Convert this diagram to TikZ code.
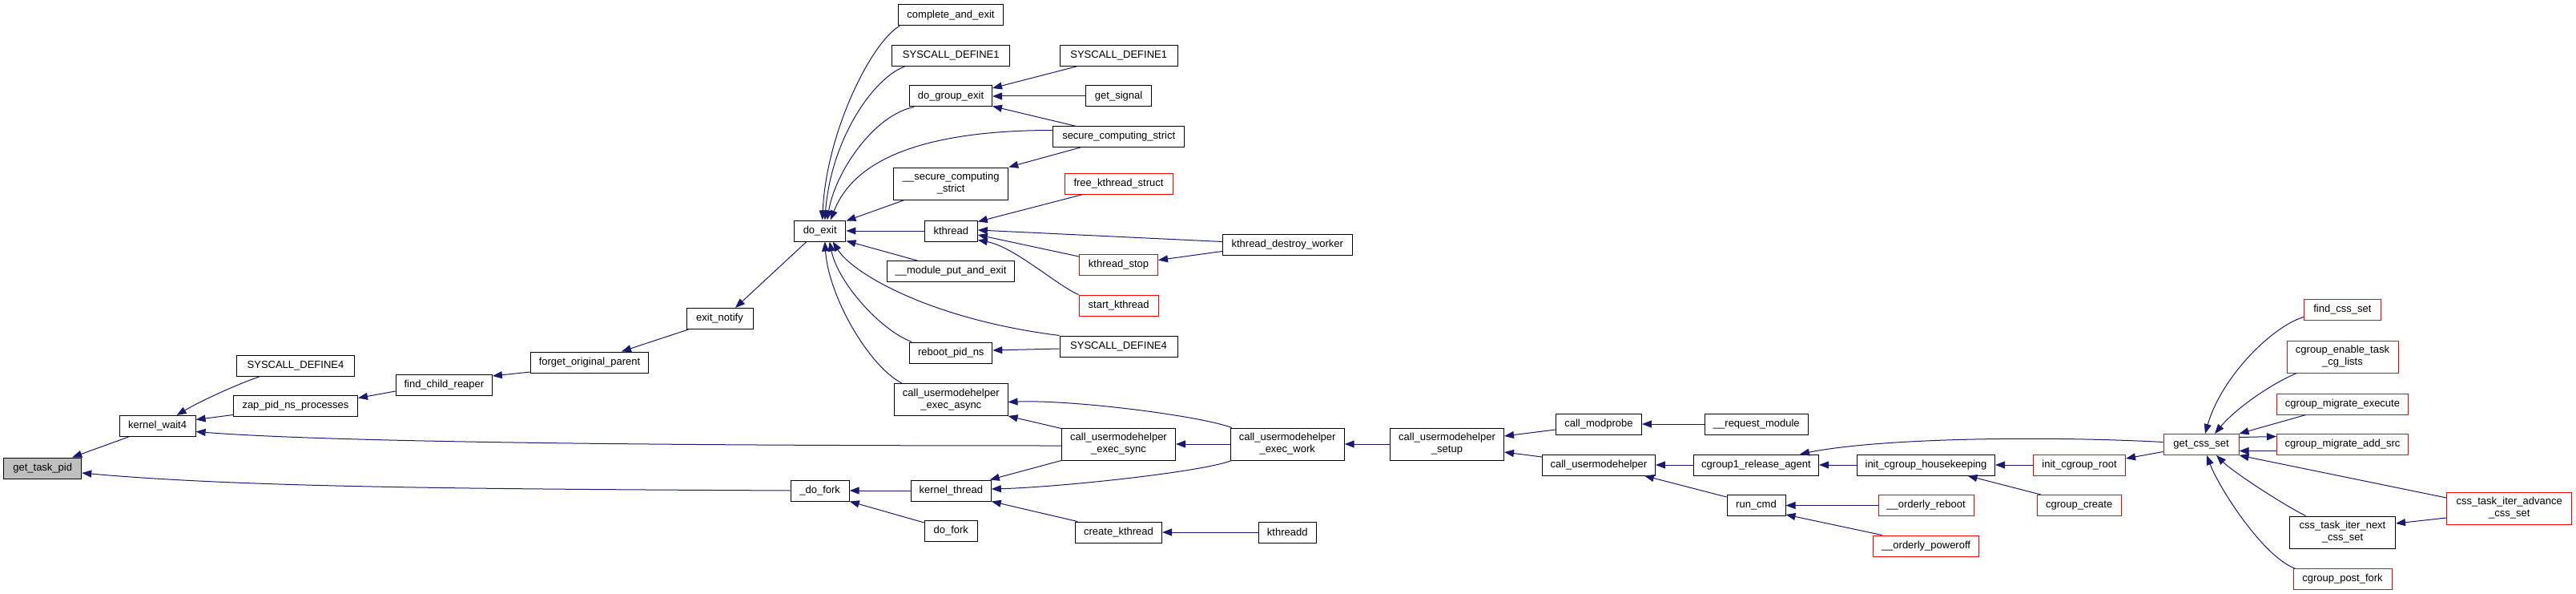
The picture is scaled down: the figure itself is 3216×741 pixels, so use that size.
\documentclass[tikz,border=0pt]{standalone}
\usepackage{fontspec}
\setmainfont{Liberation Sans}
\usetikzlibrary{arrows.meta,calc}
\definecolor{edgeblue}{HTML}{191970}
\definecolor{nodegray}{HTML}{BFBFBF}
\definecolor{redborder}{HTML}{FF0000}
\tikzset{
 fn/.style={draw=black, line width=1pt, fill=white, inner sep=0pt, minimum height=26pt, align=center, font=\fontsize{13}{15}\selectfont},
 fnred/.style={fn, draw=redborder},
 fn2/.style={minimum height=40pt},
 edge/.style={draw=edgeblue, line width=1pt, -{Triangle[length=12pt,width=9pt]}},
}
\begin{document}
\begin{tikzpicture}[x=1pt,y=-1pt]
\fill[white] (0,0) rectangle (3216,741);
\useasboundingbox (0,0) rectangle (3216,741);
% nodes
\node[fn, fill=nodegray, minimum width=97pt] (gtp) at (53.2,584) {get\_task\_pid};
\node[fn, minimum width=95pt] (kw4) at (196.6,531.5) {kernel\_wait4};
\node[fn, minimum width=147pt] (sd4a) at (369,456) {SYSCALL\_DEFINE4};
\node[fn, minimum width=155pt] (zap) at (369,506.5) {zap\_pid\_ns\_processes};
\node[fn, minimum width=120pt] (fcr) at (554.4,480) {find\_child\_reaper};
\node[fn, minimum width=147pt] (fop) at (736,452) {forget\_original\_parent};
\node[fn, minimum width=83pt] (en) at (898.5,397.5) {exit\_notify};
\node[fn, minimum width=64.5pt] (dex) at (1023.7,288) {do\_exit};
\node[fn, minimum width=73pt] (dfk) at (1023.7,612) {\_do\_fork};
\node[fn, minimum width=131pt] (cae) at (1187,19) {complete\_and\_exit};
\node[fn, minimum width=147pt] (sd1a) at (1187.3,69.5) {SYSCALL\_DEFINE1};
\node[fn, minimum width=103pt] (dge) at (1187,120) {do\_group\_exit};
\node[fn, minimum width=164pt] (scs) at (1396.7,170.5) {secure\_computing\_strict};
\node[fn, fn2, minimum width=143pt] (uscs) at (1187.2,229) {\_\_secure\_computing\\\_strict};
\node[fn, minimum width=66pt] (kth) at (1187.3,288) {kthread};
\node[fn, minimum width=159pt] (mpe) at (1187,338.5) {\_\_module\_put\_and\_exit};
\node[fn, minimum width=103pt] (rpn) at (1187.3,440) {reboot\_pid\_ns};
\node[fn, fn2, minimum width=141.5pt] (uea) at (1187.3,498.5) {call\_usermodehelper\\\_exec\_async};
\node[fn, minimum width=100pt] (kt) at (1187.3,612) {kernel\_thread};
\node[fn, minimum width=66pt] (dfo) at (1187.3,662.5) {do\_fork};
\node[fn, minimum width=147pt] (sd1b) at (1396.7,69.5) {SYSCALL\_DEFINE1};
\node[fn, minimum width=82pt] (gs) at (1396.6,120) {get\_signal};
\node[fnred, minimum width=135pt] (fks) at (1396.5,229.5) {free\_kthread\_struct};
\node[fnred, minimum width=98pt] (kst) at (1396.5,330.5) {kthread\_stop};
\node[fnred, minimum width=99pt] (stk) at (1396.6,381) {start\_kthread};
\node[fn, minimum width=147pt] (sd4b) at (1396.5,432) {SYSCALL\_DEFINE4};
\node[fn, fn2, minimum width=142pt] (ues) at (1396.5,554) {call\_usermodehelper\\\_exec\_sync};
\node[fn, minimum width=108pt] (ck) at (1396.5,664) {create\_kthread};
\node[fn, minimum width=162pt] (kdw) at (1607.3,305.5) {kthread\_destroy\_worker};
\node[fn, fn2, minimum width=142pt] (uew) at (1607.2,554) {call\_usermodehelper\\\_exec\_work};
\node[fn, minimum width=72pt] (kdd) at (1607.2,664) {kthreadd};
\node[fn, fn2, minimum width=142pt] (usu) at (1806.5,554) {call\_usermodehelper\\\_setup};
\node[fn, minimum width=107pt] (cmp) at (1995.9,529) {call\_modprobe};
\node[fn, minimum width=141pt] (cuh) at (1995.9,580) {call\_usermodehelper};
\node[fn, minimum width=129pt] (rqm) at (2192.8,529) {\_\_request\_module};
\node[fn, minimum width=156pt] (cra) at (2192.5,580) {cgroup1\_release\_agent};
\node[fn, minimum width=73pt] (rcm) at (2192.5,630.5) {run\_cmd};
\node[fn, minimum width=172pt] (ich) at (2404.5,580) {init\_cgroup\_housekeeping};
\node[fnred, minimum width=119pt] (orb) at (2404.5,630.5) {\_\_orderly\_reboot};
\node[fnred, minimum width=132pt] (opo) at (2404.5,681) {\_\_orderly\_poweroff};
\node[fnred, minimum width=115pt] (icr) at (2596,580) {init\_cgroup\_root};
\node[fnred, minimum width=105pt] (ccr) at (2595.7,630.5) {cgroup\_create};
\node[fnred, minimum width=94pt] (gcs) at (2748,554.5) {get\_css\_set};
\node[fnred, minimum width=96pt] (fcs) at (2924.4,386.5) {find\_css\_set};
\node[fnred, fn2, minimum width=139pt] (cet) at (2924.5,445) {cgroup\_enable\_task\\\_cg\_lists};
\node[fnred, minimum width=164pt] (cme) at (2924.5,504) {cgroup\_migrate\_execute};
\node[fnred, minimum width=164pt] (cma) at (2924.5,554.5) {cgroup\_migrate\_add\_src};
\node[fn, fn2, minimum width=132pt] (ctn) at (2924.5,664) {css\_task\_iter\_next\\\_css\_set};
\node[fnred, minimum width=123pt] (cpf) at (2924.5,722.5) {cgroup\_post\_fork};
\node[fnred, fn2, minimum width=156pt] (cta) at (3132.7,634) {css\_task\_iter\_advance\\\_css\_set};
% edges
\draw[edge] ($(kw4.south west)+(12,0)$) -- ($(gtp.north east)+(-12,0)$);
\draw[edge] (dfk.west) .. controls +(-400,-2) and +(200,18) .. ($(gtp.east)+(0,6)$);
\draw[edge] ($(sd4a.south west)+(30,0)$) .. controls +(-35,12) and +(25,-15) .. ($(kw4.north east)+(-24,0)$);
\draw[edge] ($(zap.west)+(0,11)$) -- ($(kw4.east)+(0,-8)$);
\draw[edge] ($(ues.west)+(0,2)$) .. controls +(-450,0) and +(180,14) .. ($(kw4.east)+(0,7)$);
\draw[edge] ($(fcr.west)+(0,8)$) -- ($(zap.east)+(0,-10)$);
\draw[edge] ($(fop.west)+(0,12)$) -- ($(fcr.east)+(0,-11)$);
\draw[edge] ($(en.south west)+(3,0)$) -- ($(fop.north)+(40,0)$);
\draw[edge] ($(dex.south west)+(16,0)$) -- ($(en.north)+(19.5,0)$);
\draw[edge] ($(cae.south west)+(2,0)$) .. controls +(-35,20) and +(5,-110) .. ($(dex.north)+(3,0)$);
\draw[edge] ($(sd1a.south west)+(16,0)$) .. controls +(-40,15) and +(8,-100) .. ($(dex.north)+(6,0)$);
\draw[edge] ($(dge.south west)+(6,0)$) .. controls +(-50,10) and +(10,-60) .. ($(dex.north)+(9,0)$);
\draw[edge] ($(scs.west)+(0,-8)$) .. controls +(-210,0) and +(20,-50) .. ($(dex.north)+(13,0)$);
\draw[edge] ($(uscs.south west)+(14,0)$) -- ($(dex.north east)+(0,1)$);
\draw[edge] (kth.west) -- (dex.east);
\draw[edge] ($(mpe.north west)+(38,0)$) -- ($(dex.south east)+(0,-1)$);
\draw[edge] (sd4b.north west) .. controls +(-160,-20) and +(25,40) .. ($(dex.south)+(16,0)$);
\draw[edge] ($(rpn.north west)+(3,0)$) .. controls +(-40,-15) and +(10,50) .. ($(dex.south)+(12,0)$);
\draw[edge] ($(uea.north west)+(10,0)$) .. controls +(-40,-20) and +(5,70) .. ($(dex.south)+(6,0)$);
\draw[edge] ($(sd1b.south west)+(21,0)$) -- ($(dge.east)+(0,-10)$);
\draw[edge] (gs.west) -- (dge.east);
\draw[edge] ($(scs.north west)+(27.5,0)$) -- ($(dge.south east)+(0,-1)$);
\draw[edge] ($(scs.south west)+(34.5,0)$) -- (uscs.north east);
\draw[edge] ($(fks.south west)+(21.7,0)$) -- ($(kth.north east)+(0,2)$);
\draw[edge] ($(kdw.west)+(0,-4)$) -- ($(kth.east)+(0,-1)$);
\draw[edge] ($(kst.north west)+(0,3)$) -- ($(kth.east)+(0,5)$);
\draw[edge] (stk.north west) .. controls +(-25,-10) and +(45,8) .. ($(kth.south east)+(0,-2)$);
\draw[edge] ($(kdw.west)+(0,8)$) -- ($(kst.east)+(0,-6)$);
\draw[edge] ($(sd4b.west)+(0,3)$) -- ($(rpn.east)+(0,-3)$);
\draw[edge] ($(uew.north west)+(2,0)$) .. controls +(-40,-15) and +(80,-3) .. ($(uea.east)+(0,3)$);
\draw[edge] ($(ues.north west)+(0,1)$) -- (uea.south east);
\draw[edge] (uew.west) -- (ues.east);
\draw[edge] (ues.south west) -- ($(kt.north east)+(-2,0)$);
\draw[edge] ($(uew.south west)+(2,0)$) .. controls +(-40,15) and +(80,-2) .. ($(kt.east)+(0,-2)$);
\draw[edge] ($(ck.north west)+(3,0)$) -- (kt.south east);
\draw[edge] (kdd.west) -- (ck.east);
\draw[edge] (kt.west) -- (dfk.east);
\draw[edge] ($(dfo.north west)+(0,3)$) -- (dfk.south east);
\draw[edge] (usu.west) -- (uew.east);
\draw[edge] ($(cmp.west)+(0,7)$) -- ($(usu.east)+(0,-10)$);
\draw[edge] ($(cuh.west)+(0,-10)$) -- ($(usu.east)+(0,10)$);
\draw[edge] (rqm.west) -- (cmp.east);
\draw[edge] (cra.west) -- (cuh.east);
\draw[edge] ($(rcm.north west)+(0,3)$) -- ($(cuh.south east)+(-14,0)$);
\draw[edge] (ich.west) -- (cra.east);
\draw[edge] ($(gcs.west)+(0,-3)$) .. controls +(-150,-8) and +(100,-20) .. ($(cra.north east)+(-24,0)$);
\draw[edge] (icr.west) -- (ich.east);
\draw[edge] ($(ccr.north west)+(5,0)$) -- ($(ich.south)+(52,0)$);
\draw[edge] ($(gcs.west)+(0,9)$) -- ($(icr.east)+(0,-8)$);
\draw[edge] (orb.west) -- (rcm.east);
\draw[edge] ($(opo.north west)+(11.6,0)$) -- ($(rcm.south east)+(0,-2)$);
\draw[edge] ($(fcs.west)+(0,9)$) .. controls +(-40,12) and +(20,-70) .. ($(gcs.north)+(5,0)$);
\draw[edge] ($(cet.south west)+(12.7,0)$) .. controls +(-35,15) and +(25,-30) .. ($(gcs.north)+(17,0)$);
\draw[edge] ($(cme.south west)+(36.7,0)$) -- (gcs.north east);
\draw[edge] ($(gcs.east)+(0,-9)$) -- ($(cma.west)+(0,-10)$);
\draw[edge] ($(cma.west)+(0,8)$) -- ($(gcs.east)+(0,8)$);
\draw[edge] ($(cta.west)+(0,-13)$) -- (gcs.south east);
\draw[edge] ($(ctn.north west)+(20.5,0)$) .. controls +(-30,-15) and +(20,20) .. ($(gcs.south)+(19,0)$);
\draw[edge] ($(cpf.north west)+(2.4,0)$) .. controls +(-40,-15) and +(15,40) .. ($(gcs.south)+(7,0)$);
\draw[edge] ($(cta.west)+(0,12)$) -- ($(ctn.east)+(0,-11)$);
\end{tikzpicture}
\end{document}
